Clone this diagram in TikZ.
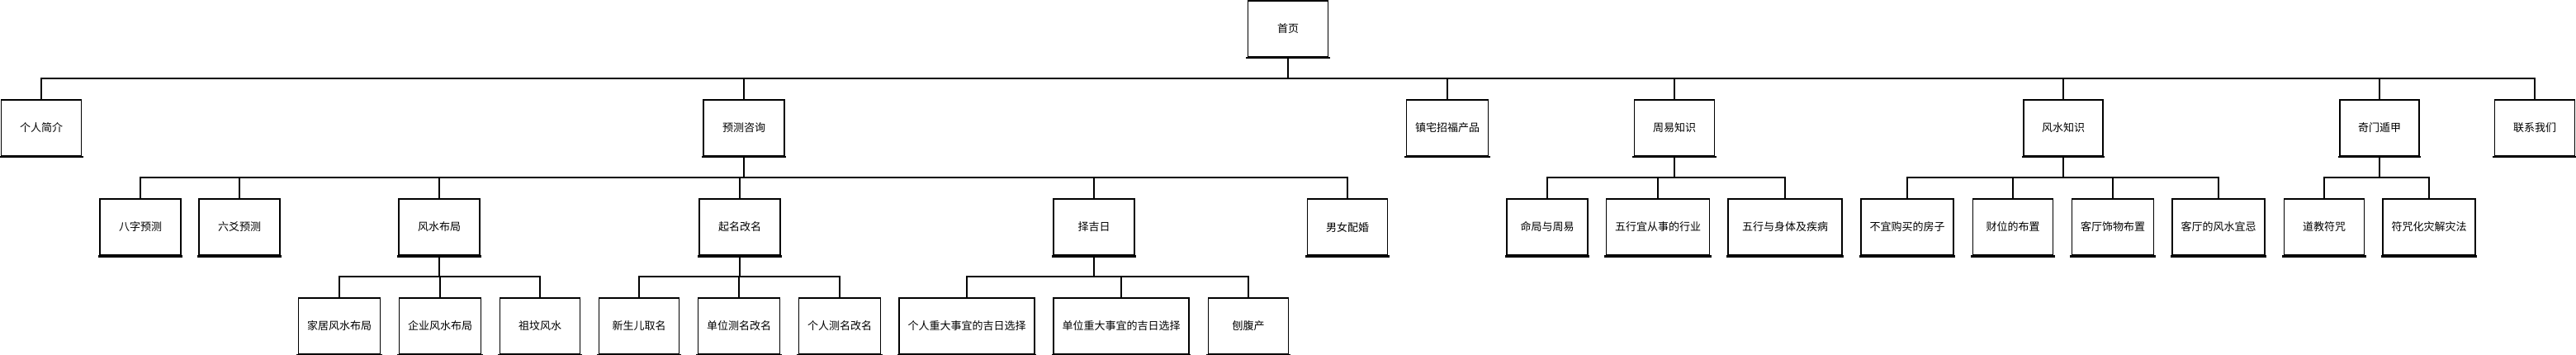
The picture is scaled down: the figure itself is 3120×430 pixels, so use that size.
\documentclass[tikz,border=0pt]{standalone}
\usepackage{fontspec}
\newfontfamily\cjk{Noto Sans CJK SC}
\usetikzlibrary{calc}
\tikzset{
  box/.style={draw, line width=1.6pt, fill=white, minimum height=68pt, minimum width=97pt, inner sep=0pt, font={\cjk\fontsize{13}{15}\selectfont},
    append after command={\pgfextra{\draw[line width=2.6pt, line cap=rect] ([yshift=-0.4pt]\tikzlastnode.south west) -- ([yshift=-0.4pt]\tikzlastnode.south east);}}},
  vline/.style={line width=1.4pt},
  hbus/.style={line width=2.4pt, line cap=rect},
}
\newcommand\famtree[4]{%
  \coordinate (j#1) at ($(#1.south)!0.5!(#2.north)$);
  \draw[vline] (#1.south) -- (#1.south |- j#1);
  \draw[hbus] (#2.north |- j#1) -- (#3.north |- j#1);
  \foreach \c in {#4} {\draw[vline] (\c.north |- j#1) -- (\c.north);}
}
\begin{document}
\begin{tikzpicture}[x=1pt, y=-1pt]
\useasboundingbox (0,0) rectangle (3120,430);
% row 0
\node[box] (home) at (1560,35) {首页};
% row 1
\node[box] (intro) at (50,155) {个人简介};
\node[box, minimum width=98pt] (pred) at (901,155) {预测咨询};
\node[box, minimum width=99pt] (prod) at (1753,155) {镇宅招福产品};
\node[box] (zhouyi) at (2028,155) {周易知识};
\node[box, minimum width=96pt] (fsk) at (2499,155) {风水知识};
\node[box, minimum width=96pt] (qimen) at (2882,155) {奇门遁甲};
\node[box] (contact) at (3070,155) {联系我们};
% row 2
\node[box, minimum width=98pt] (bazi) at (170,275) {八字预测};
\node[box, minimum width=98pt] (liuyao) at (290,275) {六爻预测};
\node[box, minimum width=98pt] (fsbj) at (532,275) {风水布局};
\node[box, minimum width=98pt] (qiming) at (896,275) {起名改名};
\node[box, minimum width=98pt] (zejiri) at (1325,275) {择吉日};
\node[box] (peihun) at (1632,275) {男女配婚};
\node[box, minimum width=98pt] (mingju) at (1874,275) {命局与周易};
\node[box, minimum width=125pt] (wxa) at (2008,275) {五行宜从事的行业};
\node[box, minimum width=138pt] (wxb) at (2162,275) {五行与身体及疾病};
\node[box, minimum width=112pt] (buy) at (2310,275) {不宜购买的房子};
\node[box] (caiwei) at (2438,275) {财位的布置};
\node[box, minimum width=99pt] (kta) at (2559,275) {客厅饰物布置};
\node[box, minimum width=112pt] (ktb) at (2687,275) {客厅的风水宜忌};
\node[box] (daojiao) at (2815,275) {道教符咒};
\node[box, minimum width=112pt] (fuzhou) at (2942,275) {符咒化灾解灾法};
% row 3
\node[box, minimum width=99pt] (jiaju) at (411,395) {家居风水布局};
\node[box, minimum width=99pt] (qiye) at (533,395) {企业风水布局};
\node[box] (zufen) at (654,395) {祖坟风水};
\node[box] (xinsheng) at (774,395) {新生儿取名};
\node[box, minimum width=99pt] (danwei) at (895,395) {单位测名改名};
\node[box, minimum width=99pt] (geren) at (1017,395) {个人测名改名};
\node[box, minimum width=164pt] (grjr) at (1171,395) {个人重大事宜的吉日选择};
\node[box, minimum width=164pt] (dwjr) at (1358,395) {单位重大事宜的吉日选择};
\node[box] (poufu) at (1512,395) {刨腹产};
% connectors
\famtree{home}{intro}{contact}{intro,pred,prod,zhouyi,fsk,qimen,contact}
\famtree{pred}{bazi}{peihun}{bazi,liuyao,fsbj,qiming,zejiri,peihun}
\famtree{fsbj}{jiaju}{zufen}{jiaju,qiye,zufen}
\famtree{qiming}{xinsheng}{geren}{xinsheng,danwei,geren}
\famtree{zejiri}{grjr}{poufu}{grjr,dwjr,poufu}
\famtree{zhouyi}{mingju}{wxb}{mingju,wxa,wxb}
\famtree{fsk}{buy}{ktb}{buy,caiwei,kta,ktb}
\famtree{qimen}{daojiao}{fuzhou}{daojiao,fuzhou}
\end{tikzpicture}
\end{document}
